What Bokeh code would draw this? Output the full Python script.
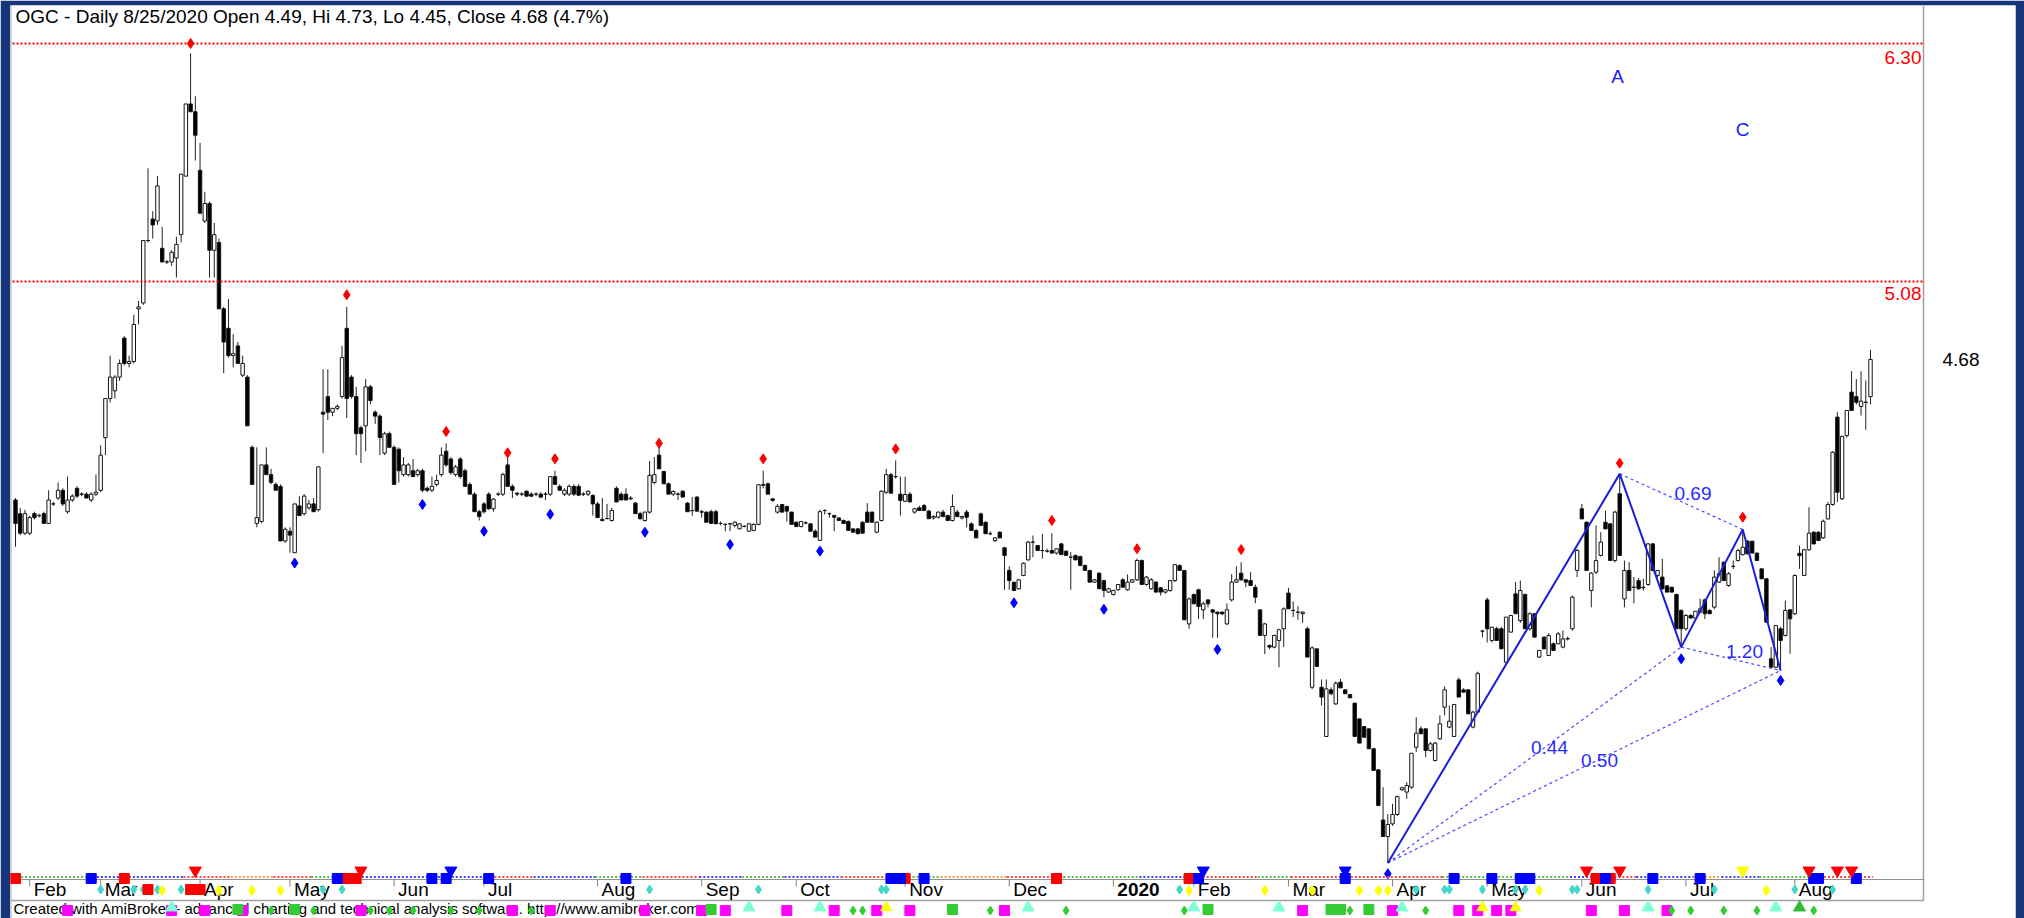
from bokeh.plotting import figure
from bokeh.models import Range1d
from bokeh.core.properties import value
from bokeh.embed import file_html
from bokeh.resources import INLINE

# ---------------- data ----------------
open_ = [
3.96, 3.89, 3.79, 3.79, 3.89, 3.88, 3.89, 3.84, 3.94, 3.97,
4.01, 3.90, 3.96, 4.02, 3.99, 3.99, 3.96, 3.99, 4.01, 4.28,
4.48, 4.52, 4.59, 4.79, 4.66, 4.67, 4.94, 4.97, 5.29, 5.40,
5.39, 5.25, 5.18, 5.18, 5.20, 5.32, 5.62, 5.99, 5.95, 5.65,
5.39, 5.48, 5.24, 5.28, 4.94, 4.84, 4.70, 4.75, 4.60, 4.59,
4.23, 3.84, 3.85, 4.14, 4.09, 4.04, 4.03, 3.75, 3.80, 3.69,
3.93, 3.89, 3.92, 3.94, 3.91, 4.41, 4.49, 4.41, 4.43, 4.49,
4.84, 4.59, 4.49, 4.33, 4.34, 4.54, 4.41, 4.39, 4.20, 4.30,
4.23, 4.22, 4.09, 4.09, 4.11, 4.09, 4.11, 4.02, 4.01, 4.04,
4.09, 4.21, 4.17, 4.09, 4.17, 4.11, 4.04, 3.99, 3.90, 3.94,
3.99, 3.915, 3.99, 3.99, 4.14, 4.03, 3.995, 3.99, 4.005, 3.99,
3.99, 3.99, 3.99, 3.99, 4.08, 4.03, 3.99, 3.99, 4.03, 4.03,
3.99, 3.99, 3.983, 3.94, 3.86, 3.865, 3.855, 4.02, 3.99, 3.99,
3.97, 3.944, 3.89, 3.855, 3.898, 4.05, 4.19, 4.106, 4.043, 3.99,
3.99, 4.005, 3.944, 3.906, 3.975, 3.90, 3.898, 3.90, 3.90, 3.84,
3.835, 3.838, 3.83, 3.812, 3.825, 3.80, 3.804, 3.835, 4.035, 4.043,
3.966, 3.898, 3.937, 3.927, 3.898, 3.846, 3.824, 3.843, 3.838, 3.80,
3.753, 3.906, 3.89, 3.88, 3.868, 3.855, 3.85, 3.812, 3.812, 3.846,
3.898, 3.898, 3.795, 3.855, 4.0, 4.09, 4.08, 3.99, 3.954, 3.99,
3.898, 3.92, 3.932, 3.903, 3.868, 3.872, 3.898, 3.88, 3.855, 3.898,
3.868, 3.898, 3.838, 3.804, 3.889, 3.846, 3.787, 3.752, 3.795, 3.715,
3.599, 3.539, 3.505, 3.573, 3.653, 3.744, 3.727, 3.701, 3.698, 3.701,
3.688, 3.735, 3.698, 3.667, 3.676, 3.67, 3.624, 3.599, 3.539, 3.585,
3.547, 3.488, 3.476, 3.50, 3.551, 3.50, 3.539, 3.551, 3.65, 3.527,
3.505, 3.539, 3.51, 3.488, 3.496, 3.547, 3.624, 3.599, 3.325, 3.476,
3.50, 3.397, 3.448, 3.397, 3.385, 3.385, 3.325, 3.448, 3.539, 3.585,
3.551, 3.547, 3.513, 3.397, 3.266, 3.214, 3.206, 3.24, 3.30, 3.483,
3.394, 3.385, 3.377, 3.30, 3.0, 3.197, 3.0, 2.748, 2.987, 2.915,
3.026, 2.987, 2.963, 2.919, 2.838, 2.799, 2.787, 2.685, 2.577, 2.32,
2.235, 2.30, 2.348, 2.475, 2.463, 2.488, 2.693, 2.787, 2.787, 2.676,
2.625, 2.736, 2.898, 2.796, 2.748, 3.038, 2.987, 2.987, 2.796, 2.873,
3.288, 3.448, 3.24, 3.30, 3.30, 3.129, 3.283, 3.479, 3.342, 3.476,
3.30, 3.377, 3.155, 3.257, 3.163, 3.223, 3.223, 3.206, 3.25, 3.30,
3.599, 3.915, 3.846, 3.496, 3.59, 3.676, 3.846, 3.838, 3.65, 3.992,
3.453, 3.599, 3.513, 3.547, 3.51, 3.527, 3.735, 3.573, 3.565, 3.52,
3.513, 3.476, 3.394, 3.30, 3.368, 3.355, 3.385, 3.448, 3.394, 3.411,
3.539, 3.641, 3.522, 3.62, 3.65, 3.68, 3.749, 3.749, 3.688, 3.607,
3.556, 3.146, 3.103, 3.30, 3.266, 3.397, 3.377, 3.687, 3.573, 3.705,
3.795, 3.795, 3.766, 3.863, 3.937, 4.385, 3.966, 4.291, 4.513, 4.49,
4.44, 4.46, 4.49]

high = [
3.97, 3.92, 3.91, 3.88, 3.90, 3.89, 3.90, 4.01, 3.95, 4.05,
4.02, 4.08, 3.99, 4.03, 4.00, 4.00, 4.00, 4.09, 4.24, 4.48,
4.70, 4.60, 4.68, 4.80, 4.70, 4.91, 4.98, 5.29, 5.66, 5.44,
5.62, 5.36, 5.19, 5.24, 5.31, 5.63, 5.99, 6.25, 6.03, 5.79,
5.54, 5.49, 5.38, 5.30, 4.95, 4.99, 4.81, 4.77, 4.70, 4.60,
4.24, 4.23, 4.14, 4.23, 4.12, 4.05, 4.04, 3.82, 3.82, 3.94,
3.98, 3.99, 3.96, 3.97, 4.13, 4.63, 4.63, 4.43, 4.45, 4.75,
4.95, 4.60, 4.54, 4.34, 4.58, 4.55, 4.42, 4.40, 4.31, 4.31,
4.24, 4.23, 4.18, 4.15, 4.17, 4.12, 4.12, 4.03, 4.08, 4.09,
4.23, 4.25, 4.18, 4.14, 4.18, 4.12, 4.05, 4.00, 3.91, 3.95,
4.00, 3.97, 4.00, 4.10, 4.19, 4.04, 4.00, 4.00, 4.01, 4.00,
4.00, 4.00, 4.00, 4.08, 4.11, 4.04, 4.02, 4.04, 4.04, 4.04,
4.00, 4.01, 3.99, 3.95, 3.97, 3.94, 3.92, 4.03, 4.00, 4.02,
3.98, 3.95, 3.90, 3.90, 4.16, 4.18, 4.25, 4.11, 4.05, 4.01,
4.00, 4.01, 3.95, 3.975, 3.98, 3.91, 3.90, 3.91, 3.91, 3.85,
3.84, 3.84, 3.85, 3.84, 3.83, 3.84, 3.84, 4.04, 4.11, 4.05,
3.97, 3.94, 3.94, 3.93, 3.90, 3.85, 3.85, 3.85, 3.84, 3.81,
3.91, 3.913, 3.896, 3.885, 3.87, 3.86, 3.855, 3.815, 3.815, 3.85,
3.944, 3.90, 3.85, 4.01, 4.12, 4.10, 4.163, 4.08, 4.08, 4.00,
3.92, 3.93, 3.94, 3.91, 3.88, 3.90, 3.91, 3.885, 3.988, 3.91,
3.88, 3.91, 3.845, 3.81, 3.895, 3.85, 3.80, 3.77, 3.80, 3.72,
3.62, 3.54, 3.555, 3.64, 3.75, 3.778, 3.73, 3.787, 3.71, 3.79,
3.71, 3.74, 3.70, 3.693, 3.68, 3.675, 3.63, 3.60, 3.555, 3.59,
3.55, 3.51, 3.50, 3.53, 3.56, 3.578, 3.555, 3.66, 3.655, 3.57,
3.56, 3.545, 3.515, 3.50, 3.55, 3.63, 3.63, 3.60, 3.46, 3.48,
3.505, 3.44, 3.45, 3.40, 3.39, 3.39, 3.43, 3.58, 3.62, 3.641,
3.555, 3.59, 3.527, 3.40, 3.33, 3.22, 3.27, 3.30, 3.41, 3.51,
3.44, 3.415, 3.39, 3.31, 3.21, 3.20, 3.04, 3.04, 3.00, 3.03,
3.043, 2.99, 2.965, 2.92, 2.84, 2.80, 2.79, 2.69, 2.58, 2.488,
2.35, 2.403, 2.445, 2.49, 2.514, 2.66, 2.847, 2.80, 2.79, 2.72,
2.72, 2.856, 3.004, 2.907, 2.915, 3.05, 2.995, 2.99, 2.88, 3.08,
3.295, 3.46, 3.31, 3.31, 3.31, 3.36, 3.37, 3.54, 3.547, 3.48,
3.385, 3.38, 3.19, 3.26, 3.277, 3.23, 3.283, 3.291, 3.26, 3.47,
3.71, 3.94, 3.85, 3.59, 3.83, 3.795, 3.906, 3.84, 3.906, 4.094,
3.65, 3.641, 3.565, 3.56, 3.556, 3.74, 3.74, 3.60, 3.658, 3.525,
3.515, 3.48, 3.40, 3.375, 3.375, 3.39, 3.454, 3.455, 3.40, 3.599,
3.667, 3.645, 3.59, 3.65, 3.71, 3.809, 3.755, 3.75, 3.69, 3.61,
3.56, 3.206, 3.317, 3.31, 3.445, 3.40, 3.58, 3.727, 3.71, 3.923,
3.80, 3.80, 3.86, 3.95, 4.21, 4.41, 4.29, 4.42, 4.62, 4.58,
4.62, 4.573, 4.73]

low = [
3.72, 3.78, 3.78, 3.78, 3.86, 3.87, 3.84, 3.84, 3.93, 3.96,
3.93, 3.89, 3.95, 3.97, 3.98, 3.97, 3.95, 3.98, 4.00, 4.19,
4.46, 4.48, 4.57, 4.65, 4.64, 4.66, 4.86, 4.96, 5.28, 5.30,
5.37, 5.18, 5.17, 5.16, 5.10, 5.28, 5.62, 5.95, 5.70, 5.43,
5.38, 5.10, 5.10, 4.94, 4.61, 4.69, 4.64, 4.66, 4.59, 4.34,
4.04, 3.82, 3.84, 4.09, 4.04, 4.01, 3.75, 3.74, 3.69, 3.69,
3.88, 3.88, 3.91, 3.90, 3.90, 4.20, 4.37, 4.39, 4.42, 4.48,
4.38, 4.48, 4.19, 4.15, 4.21, 4.45, 4.35, 4.19, 4.19, 4.23,
4.04, 4.05, 4.08, 4.08, 4.08, 4.08, 4.00, 4.00, 4.00, 4.03,
4.08, 4.13, 4.09, 4.08, 4.07, 4.03, 3.99, 3.90, 3.855, 3.89,
3.91, 3.90, 3.98, 3.98, 4.03, 3.97, 3.98, 3.98, 3.975, 3.975,
3.98, 3.97, 3.96, 3.98, 4.04, 4.01, 3.98, 3.98, 3.98, 3.98,
3.98, 3.98, 3.88, 3.87, 3.85, 3.86, 3.85, 3.95, 3.96, 3.96,
3.96, 3.89, 3.86, 3.85, 3.89, 4.04, 4.12, 4.043, 3.99, 3.98,
3.96, 3.975, 3.90, 3.88, 3.90, 3.87, 3.846, 3.84, 3.84, 3.83,
3.80, 3.80, 3.82, 3.81, 3.82, 3.80, 3.80, 3.83, 4.02, 3.99,
3.95, 3.89, 3.898, 3.85, 3.835, 3.824, 3.82, 3.835, 3.80, 3.77,
3.75, 3.886, 3.87, 3.80, 3.855, 3.84, 3.804, 3.795, 3.787, 3.787,
3.846, 3.846, 3.79, 3.85, 3.99, 3.995, 4.07, 3.88, 3.95, 3.95,
3.89, 3.906, 3.906, 3.864, 3.86, 3.865, 3.875, 3.855, 3.85, 3.875,
3.86, 3.82, 3.804, 3.766, 3.83, 3.787, 3.78, 3.745, 3.766, 3.50,
3.50, 3.496, 3.50, 3.57, 3.65, 3.667, 3.701, 3.66, 3.69, 3.685,
3.68, 3.68, 3.676, 3.50, 3.653, 3.624, 3.599, 3.539, 3.535, 3.505,
3.462, 3.485, 3.47, 3.495, 3.513, 3.495, 3.535, 3.545, 3.527, 3.52,
3.50, 3.488, 3.47, 3.48, 3.49, 3.54, 3.599, 3.346, 3.30, 3.428,
3.35, 3.35, 3.41, 3.254, 3.254, 3.37, 3.32, 3.44, 3.535, 3.545,
3.513, 3.52, 3.431, 3.266, 3.17, 3.196, 3.20, 3.103, 3.206, 3.402,
3.36, 3.346, 3.33, 3.155, 2.99, 3.107, 2.907, 2.745, 2.96, 2.91,
2.997, 2.967, 2.946, 2.748, 2.714, 2.744, 2.685, 2.574, 2.394, 2.235,
2.10, 2.29, 2.34, 2.47, 2.428, 2.48, 2.668, 2.762, 2.642, 2.67,
2.62, 2.73, 2.856, 2.79, 2.745, 2.95, 2.975, 2.864, 2.79, 2.87,
3.257, 3.23, 3.23, 3.24, 3.197, 3.12, 3.28, 3.377, 3.33, 3.30,
3.29, 3.257, 3.15, 3.197, 3.16, 3.189, 3.22, 3.20, 3.24, 3.29,
3.565, 3.863, 3.599, 3.41, 3.58, 3.67, 3.812, 3.65, 3.64, 3.676,
3.41, 3.496, 3.43, 3.50, 3.496, 3.52, 3.599, 3.565, 3.50, 3.488,
3.488, 3.30, 3.206, 3.29, 3.355, 3.35, 3.38, 3.35, 3.377, 3.40,
3.535, 3.547, 3.515, 3.607, 3.645, 3.675, 3.684, 3.688, 3.65, 3.556,
3.334, 3.10, 3.10, 3.086, 3.26, 3.172, 3.37, 3.607, 3.57, 3.70,
3.735, 3.752, 3.76, 3.86, 3.93, 3.95, 3.96, 4.28, 4.419, 4.45,
4.393, 4.32, 4.45]

close = [
3.84, 3.79, 3.89, 3.87, 3.87, 3.88, 3.84, 3.96, 3.94, 4.01,
3.94, 3.96, 3.98, 3.98, 3.99, 3.97, 3.99, 4.00, 4.19, 4.48,
4.59, 4.59, 4.66, 4.66, 4.67, 4.86, 4.95, 5.29, 5.29, 5.37,
5.57, 5.18, 5.18, 5.23, 5.27, 5.63, 5.99, 5.95, 5.83, 5.43,
5.48, 5.24, 5.32, 4.94, 4.77, 4.70, 4.71, 4.66, 4.66, 4.34,
4.04, 3.87, 4.14, 4.09, 4.05, 4.01, 3.75, 3.81, 3.78, 3.94,
3.88, 3.98, 3.94, 3.90, 4.13, 4.40, 4.41, 4.43, 4.44, 4.69,
4.48, 4.49, 4.30, 4.30, 4.54, 4.47, 4.39, 4.28, 4.30, 4.23,
4.04, 4.11, 4.14, 4.14, 4.08, 4.11, 4.01, 4.01, 4.03, 4.06,
4.19, 4.14, 4.10, 4.13, 4.08, 4.03, 3.99, 3.90, 3.875, 3.90,
3.915, 3.965, 3.99, 4.09, 4.03, 4.01, 3.99, 3.99, 3.98, 3.98,
3.99, 3.975, 3.99, 4.08, 4.04, 4.01, 4.01, 4.03, 3.99, 3.985,
3.99, 4.005, 3.94, 3.87, 3.855, 3.865, 3.906, 3.95, 3.96, 3.96,
3.966, 3.89, 3.864, 3.898, 4.086, 4.09, 4.12, 4.043, 3.99, 4.004,
3.99, 3.975, 3.90, 3.905, 3.903, 3.898, 3.846, 3.84, 3.838, 3.84,
3.835, 3.838, 3.846, 3.838, 3.825, 3.838, 3.835, 4.038, 4.04, 3.99,
3.958, 3.927, 3.898, 3.903, 3.835, 3.824, 3.85, 3.843, 3.80, 3.77,
3.90, 3.906, 3.89, 3.872, 3.855, 3.84, 3.804, 3.795, 3.787, 3.79,
3.846, 3.846, 3.846, 4.005, 4.09, 3.995, 4.08, 3.958, 3.988, 3.95,
3.915, 3.906, 3.906, 3.864, 3.876, 3.898, 3.875, 3.855, 3.927, 3.875,
3.875, 3.872, 3.804, 3.766, 3.83, 3.787, 3.787, 3.766, 3.766, 3.676,
3.547, 3.496, 3.551, 3.636, 3.744, 3.744, 3.701, 3.701, 3.698, 3.688,
3.71, 3.68, 3.676, 3.667, 3.653, 3.624, 3.599, 3.539, 3.551, 3.505,
3.496, 3.505, 3.496, 3.527, 3.513, 3.539, 3.551, 3.65, 3.527, 3.565,
3.551, 3.488, 3.488, 3.50, 3.547, 3.629, 3.599, 3.346, 3.453, 3.428,
3.414, 3.428, 3.428, 3.385, 3.377, 3.377, 3.397, 3.539, 3.551, 3.551,
3.539, 3.522, 3.462, 3.266, 3.325, 3.206, 3.266, 3.295, 3.402, 3.402,
3.394, 3.385, 3.385, 3.155, 3.202, 3.107, 2.95, 2.992, 2.967, 3.021,
2.997, 2.967, 2.946, 2.748, 2.714, 2.744, 2.685, 2.574, 2.394, 2.235,
2.297, 2.348, 2.44, 2.485, 2.497, 2.662, 2.765, 2.762, 2.676, 2.71,
2.714, 2.813, 2.987, 2.826, 2.912, 2.95, 2.975, 2.864, 2.873, 3.072,
3.288, 3.30, 3.308, 3.24, 3.197, 3.36, 3.368, 3.377, 3.496, 3.30,
3.377, 3.257, 3.189, 3.197, 3.265, 3.189, 3.274, 3.248, 3.248, 3.462,
3.701, 3.863, 3.599, 3.585, 3.65, 3.744, 3.812, 3.65, 3.898, 3.676,
3.599, 3.496, 3.513, 3.505, 3.513, 3.735, 3.599, 3.599, 3.505, 3.488,
3.488, 3.30, 3.30, 3.368, 3.355, 3.39, 3.402, 3.377, 3.377, 3.565,
3.582, 3.547, 3.582, 3.62, 3.701, 3.718, 3.684, 3.688, 3.65, 3.556,
3.334, 3.103, 3.317, 3.24, 3.394, 3.351, 3.573, 3.675, 3.705, 3.79,
3.735, 3.752, 3.851, 3.937, 4.205, 4.0, 4.286, 4.419, 4.419, 4.461,
4.467, 4.462, 4.68]

month_labels = ["Feb", "Mar", "Apr", "May", "Jun", "Jul", "Aug", "Sep", "Oct", "Nov",
                "Dec", "2020", "Feb", "Mar", "Apr", "May", "Jun", "Jul", "Aug"]
month_bars = [3, 18, 39, 58, 80, 99, 123, 145, 165, 188, 210, 232, 249, 269, 291, 311, 331, 353, 376]

level_values = [6.30, 5.08]
level_labels = ["6.30", "5.08"]
last_value_label = "4.68"
last_value = 4.68
title_text = "OGC - Daily 8/25/2020 Open 4.49, Hi 4.73, Lo 4.45, Close 4.68 (4.7%)"
footer_text = "Created with AmiBroker - advanced charting and technical analysis software. http://www.amibroker.com"

peak_bars = [37, 70, 91, 104, 114, 136, 158, 186, 219, 237, 259, 339, 365]
peak_marks = [6.30, 5.012, 4.311, 4.202, 4.171, 4.251, 4.171, 4.222, 3.855, 3.71, 3.706, 4.149, 3.872]
trough_bars = [59, 86, 99, 113, 133, 151, 170, 211, 230, 254, 290, 352, 373]
trough_marks = [3.637, 3.937, 3.80, 3.887, 3.795, 3.732, 3.698, 3.433, 3.40, 3.194, 2.044, 3.146, 3.035]

pattern_bars = [290, 339, 352, 365, 373]          # X, A, B, C, D
pattern_prices = [2.10, 4.094, 3.206, 3.809, 3.086]
ratio_labels = ["0.69", "1.20", "0.44", "0.50"]
ratio_from = [1, 2, 0, 0]
ratio_to = [3, 4, 2, 4]

# signal strip (bar indices)
sig_red_sq = [0, 23, 70, 72, 188, 220, 248, 334, 337]
sig_red_sq_low = [28, 37, 39]
sig_blue_sq = [16, 68, 88, 91, 100, 129, 185, 187, 192, 250, 281, 304, 312, 318, 320, 336, 346, 356, 380, 381, 389]
sig_red_tri = [38, 73, 332, 339, 379, 385, 388]
sig_blue_tri = [92, 251, 281]
sig_yellow_tri_dn = [365]
sig_cyan_dia = [18, 25, 27, 30, 35, 65, 69, 134, 157, 183, 184, 246, 296, 302, 303, 310, 317, 319, 329, 330, 345, 359, 376, 384]
sig_yellow_dia = [31, 39, 43, 50, 56, 248, 264, 274, 284, 288, 290, 322, 370]
sig_magenta_sq = [11, 33, 40, 48, 73, 105, 113, 133, 145, 150, 163, 173, 182, 189, 209, 272, 291, 305, 309, 313, 316, 333, 340, 349]
sig_green_sq = [47, 59, 147, 198, 252, 278, 280, 286]
sig_green_dia = [54, 63, 75, 79, 84, 92, 98, 109, 177, 179, 206, 222, 247, 282, 298, 350, 354, 361, 368, 380]
sig_aqua_tri = [33, 155, 170, 214, 249, 267, 293, 345, 372]
sig_yellow_tri_up = [184, 310, 317]
sig_green_tri = [377]

ribbon_start = [0, 16, 36, 46, 55, 63, 72, 91, 100, 110, 123, 133, 145, 154, 163, 175, 185,
                196, 210, 222, 238, 248, 263, 270, 294, 302, 329, 335, 343, 355, 361, 369, 381]
ribbon_state = ["g", "b", "r", "o", "r", "g", "b", "b", "r", "b", "g", "r", "b", "g", "b", "r", "g",
                "o", "r", "g", "b", "r", "g", "r", "r", "g", "b", "r", "b", "o", "b", "g", "r"]

# ---------------- geometry helpers (page pixel -> data) ----------------
N = min(len(open_), len(high), len(low), len(close))
bars = list(range(N))
X_FIRST, X_LAST = 15.0, 1870.0
STEP = (X_LAST - X_FIRST) / (N - 1)


def bx(px):
    return (px - X_FIRST) / STEP


def py(ypix):
    return 5.08 - (ypix - 281.0) / 195.1


W, H = 2024, 918
B_LEFT, B_TOP, B_RIGHT = 10, 5, 9
FONT = value("Liberation Sans")

p = figure(width=W, height=H,
           x_range=Range1d(bx(B_LEFT), bx(W - B_RIGHT)),
           y_range=Range1d(py(H), py(B_TOP)),
           x_axis_location=None, y_axis_location=None,
           toolbar_location=None, output_backend="svg", title=None,
           min_border_left=B_LEFT, min_border_right=B_RIGHT, min_border_top=B_TOP, min_border_bottom=0,
           background_fill_color="white", border_fill_color="#16357a",
           outline_line_color=None)
p.grid.visible = False

RIGHT_EDGE = bx(1923)
LEFT_EDGE = bx(10.5)

# footer text (behind markers)
p.text(x=[bx(13)], y=[py(907.5)], text=[footer_text], text_font=FONT, text_font_size="15px",
       text_color="black", text_align="left", text_baseline="middle")

# frame lines
p.segment(x0=[LEFT_EDGE], y0=[py(5)], x1=[LEFT_EDGE], y1=[py(918)], line_color="#c8c8c8", line_width=1.5)
p.segment(x0=[RIGHT_EDGE], y0=[py(5)], x1=[RIGHT_EDGE], y1=[py(900)], line_color="#a0a0a0", line_width=1.5)
p.segment(x0=[LEFT_EDGE], y0=[py(900)], x1=[RIGHT_EDGE], y1=[py(900)], line_color="#a0a0a0", line_width=1.5)
p.segment(x0=[LEFT_EDGE], y0=[py(879)], x1=[RIGHT_EDGE], y1=[py(879)], line_color="#909090", line_width=1)

# candles
tops = [max(o, c) for o, c in zip(open_[:N], close[:N])]
bots = [min(o, c) for o, c in zip(open_[:N], close[:N])]
fills = ["black" if c < o else "white" for o, c in zip(open_[:N], close[:N])]
p.segment(x0=bars, y0=low[:N], x1=bars, y1=high[:N], line_color="#222222", line_width=1)
p.vbar(x=bars, width=0.72, top=tops, bottom=bots, fill_color=fills, line_color="#151515", line_width=1)

# level lines
for lv in level_values:
    p.segment(x0=[bx(12)], y0=[lv], x1=[bx(1922)], y1=[lv], line_color="#ff0000", line_width=2, line_dash="2 2")
p.text(x=[bx(1921)] * 2, y=[py(56.5), py(293)], text=level_labels, text_font=FONT, text_font_size="19px",
       text_color="#ff0000", text_align="right", text_baseline="middle")

# swing markers
p.scatter(x=peak_bars, y=peak_marks, marker="diamond", size=10, fill_color="#ff0000", line_color="#ff0000")
p.scatter(x=trough_bars, y=trough_marks, marker="diamond", size=10, fill_color="#0000ff", line_color="#0000ff")

# harmonic pattern
for a, b in zip(ratio_from, ratio_to):
    p.segment(x0=[pattern_bars[a]], y0=[pattern_prices[a]], x1=[pattern_bars[b]], y1=[pattern_prices[b]],
              line_color="#4a4aff", line_width=1.2, line_dash="3 3")
p.line(pattern_bars, pattern_prices, line_color="#1c1cdc", line_width=2)
p.text(x=[bx(1692.5), bx(1744), bx(1549), bx(1599)],
       y=[py(492.5), py(650.5), py(747), py(760)], text=ratio_labels, text_font=FONT,
       text_font_size="19px", text_color="#2a2aff", text_align="center", text_baseline="middle")
p.text(x=[bx(1617), bx(1742)], y=[py(76), py(129)], text=["A", "C"], text_font=FONT,
       text_font_size="19px", text_color="#1a1aff", text_align="center", text_baseline="middle")

# colored ribbon along the date axis
rcol = {"g": "#4fc04f", "r": "#ff4040", "b": "#4040ff", "o": "#ff9a40"}
r_end = ribbon_start[1:] + [N]
p.segment(x0=[s - 0.5 for s in ribbon_start], x1=[e - 0.5 for e in r_end],
          y0=[py(876.5)] * len(ribbon_start), y1=[py(876.5)] * len(ribbon_start),
          line_color=[rcol[k] for k in ribbon_state], line_width=2, line_dash="2 2")

# month ticks and labels
p.segment(x0=month_bars, x1=month_bars, y0=[py(879)] * len(month_bars), y1=[py(886)] * len(month_bars),
          line_color="#808080", line_width=1)
lx = [b + 4.0 / STEP for b in month_bars]
normal = [i for i, t in enumerate(month_labels) if t != "2020"]
bold = [i for i, t in enumerate(month_labels) if t == "2020"]
p.text(x=[lx[i] for i in normal], y=[py(889)] * len(normal), text=[month_labels[i] for i in normal],
       text_font=FONT, text_font_size="19px", text_color="black", text_align="left", text_baseline="middle")
p.text(x=[lx[i] for i in bold], y=[py(889)] * len(bold), text=[month_labels[i] for i in bold],
       text_font=FONT, text_font_size="19px", text_font_style="bold", text_color="black",
       text_align="left", text_baseline="middle")


def sig(b, marker, color, size, row):
    p.scatter(x=b, y=[py(row)] * len(b), marker=marker, size=size, fill_color=color, line_color=color)


sig(sig_cyan_dia, "diamond", "#40d8c8", 9, 889)
sig(sig_yellow_dia, "diamond", "#ffff00", 10, 890)
sig(sig_magenta_sq, "square", "#ff00ff", 10, 910)
sig(sig_green_sq, "square", "#33cc33", 10, 909)
sig(sig_green_dia, "diamond", "#33cc33", 9, 910)
sig(sig_aqua_tri, "triangle", "#7fffd4", 12, 907)
sig(sig_yellow_tri_up, "triangle", "#ffff00", 11, 907)
sig(sig_green_tri, "triangle", "#33bb33", 12, 907)
sig(sig_red_sq_low, "square", "#ff0000", 10, 889)
sig(sig_red_sq, "square", "#ff0000", 10, 878)
sig(sig_blue_sq, "square", "#0000ff", 10, 878)
sig(sig_red_tri, "inverted_triangle", "#ff0000", 12, 870)
sig(sig_blue_tri, "inverted_triangle", "#0000ff", 12, 870)
sig(sig_yellow_tri_dn, "inverted_triangle", "#ffff00", 12, 870)

# title and last value
p.text(x=[bx(15)], y=[py(16)], text=[title_text], text_font=FONT, text_font_size="19px",
       text_color="black", text_align="left", text_baseline="middle")
p.text(x=[bx(1942)], y=[last_value], text=[last_value_label], text_font=FONT, text_font_size="19px",
       text_color="black", text_align="left", text_baseline="middle")

open("out.html", "w").write(file_html(p, INLINE))
